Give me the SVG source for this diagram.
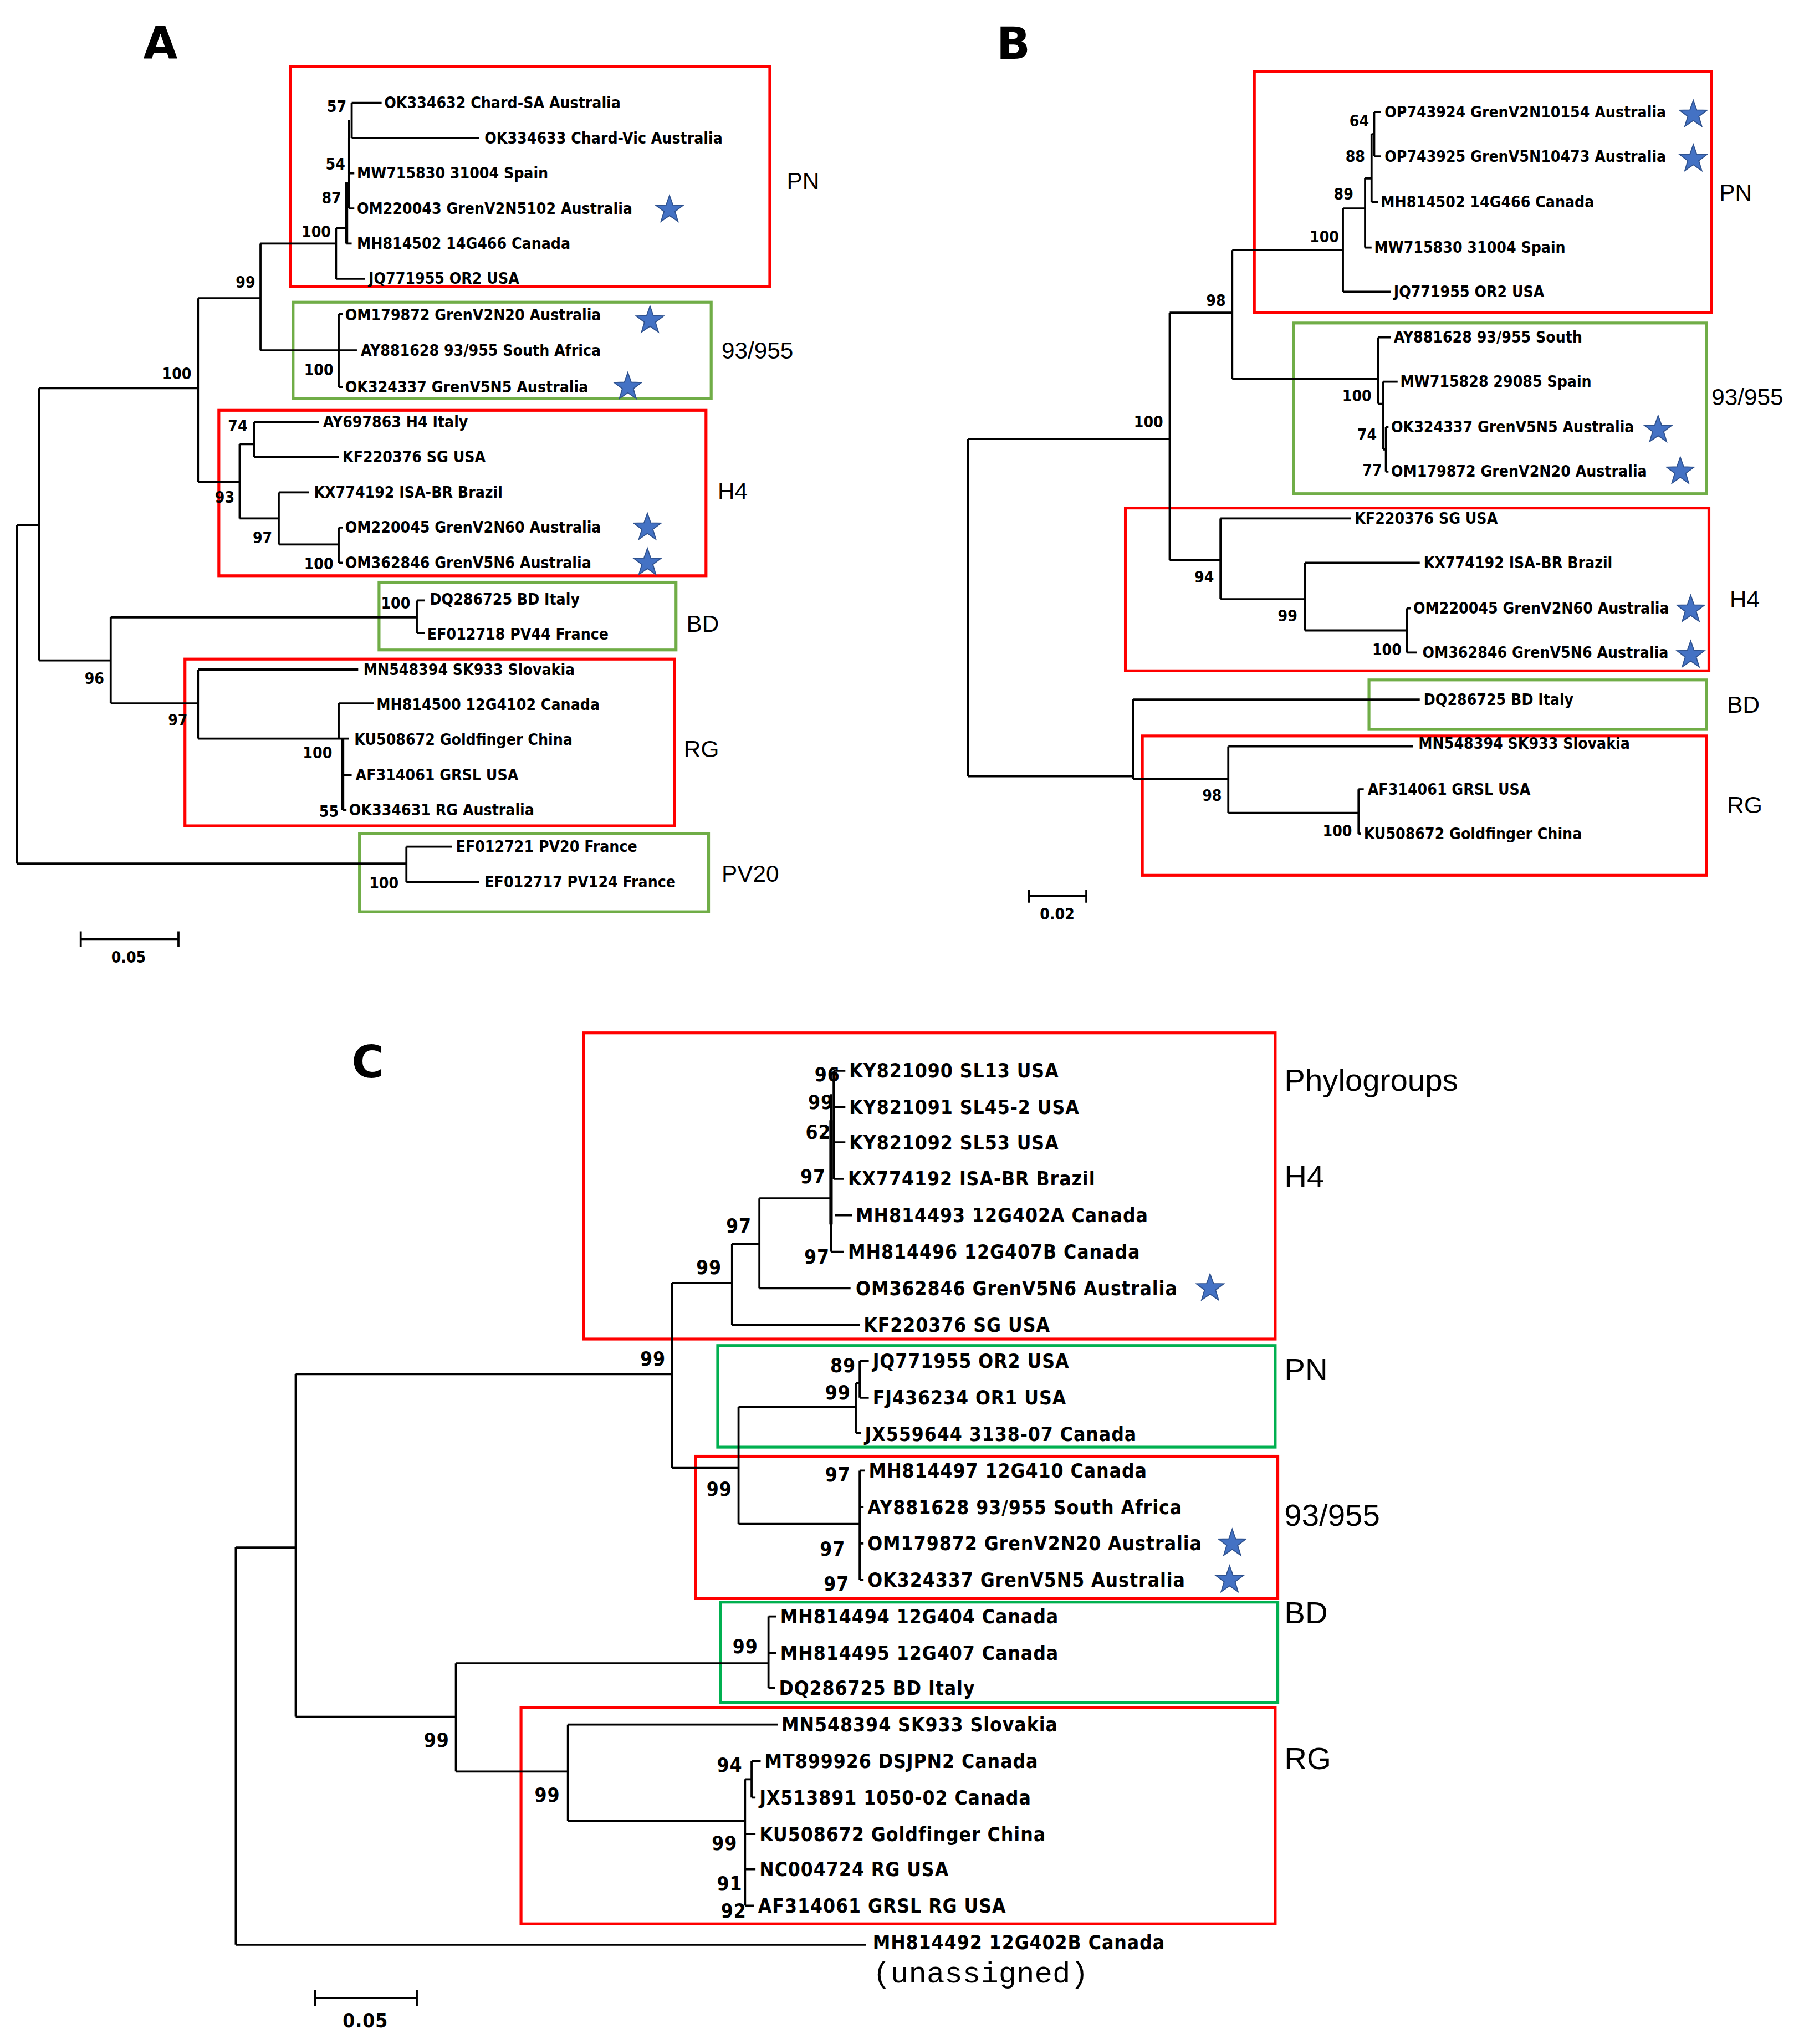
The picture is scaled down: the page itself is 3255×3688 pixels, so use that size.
<svg xmlns="http://www.w3.org/2000/svg" width="3255" height="3688" viewBox="0 0 3255 3688">
<defs>
<style>
.t{font-family:"DejaVu Sans Condensed","DejaVu Sans",sans-serif;font-weight:bold;font-size:12px;dominant-baseline:central;fill:#000}
.n{font-family:"DejaVu Sans Condensed","DejaVu Sans",sans-serif;font-weight:bold;font-size:12px;dominant-baseline:central;text-anchor:end}
.t.c,.n.c{font-size:15px;letter-spacing:0.4px}
.g{font-family:"Liberation Sans",Arial,sans-serif;font-size:18px;dominant-baseline:central}
.big{font-family:"DejaVu Sans",sans-serif;font-weight:bold;font-size:34px}
.tree path,.tree line{stroke:#000;stroke-width:1.6;fill:none}
.rb{fill:none;stroke:#f00;stroke-width:2.2}
.gb{fill:none;stroke:#70ad47;stroke-width:2.2}
.gbc{fill:none;stroke:#00b050;stroke-width:2.2}
</style>
<polygon id="star" points="0,-11 2.6,-3.6 10.5,-3.4 4.2,1.4 6.5,9 0,4.5 -6.5,9 -4.2,1.4 -10.5,-3.4 -2.6,-3.6" fill="#4472c4" stroke="#2f528f" stroke-width="0.8"/>
</defs>
<rect width="3255" height="3688" fill="#fff"/>
<g transform="scale(2.3502)">
<!-- Panel A -->
<g id="panelA">
<text class="big" x="110" y="45">A</text>
<g id="A-boxes">
<rect class="rb" x="223" y="51" width="368" height="169"/>
<rect class="gb" x="225" y="232" width="321" height="74"/>
<rect class="rb" x="168" y="315" width="374" height="127"/>
<rect class="gb" x="291" y="447" width="228" height="52"/>
<rect class="rb" x="142" y="506" width="376" height="128"/>
<rect class="gb" x="276" y="640" width="268" height="60"/>
</g>
<g id="A-connectors" class="tree">
<path d="M13,403V663M13,403H30M13,663H312M30,298V507M30,298H152M30,507H85"/>
<path d="M152,229V370M152,229H200M152,370H184M200,187V269M200,187H258M200,269H260"/>
<path d="M258,175V214M258,214H280M258,175H266M266,187H270M268,92V160M268,133H272M268,160H272M270,79V106M270,79H293M270,106H368"/>
<path d="M266,140V187" style="stroke-width:2.6"/>
<path d="M260,241V297M260,241H263M260,269H274M260,297H263"/>
<path d="M184,341V398M184,341H195M195,324V351M195,324H245M195,351H260M184,398H214M214,378V418M214,378H237M214,418H260M260,405V432M260,405H263M260,432H263"/>
<path d="M85,474V540M85,474H320M320,461V486M320,461H326M320,486H326"/>
<path d="M85,540H152M152,514V567M152,514H275M152,567H260M260,540V567M260,540H287M260,567H268M263,567V622M263,595H270M263,622H266"/>
<path d="M263,567V622" style="stroke-width:2.6"/>
<path d="M312,650V677M312,650H347M312,677H368"/>
<path d="M62,721H137M62,715V727M137,715V727"/>
</g>
<g id="A-leaves">
<text class="t" x="295" y="79">OK334632 Chard-SA Australia</text>
<text class="t" x="372" y="106">OK334633 Chard-Vic Australia</text>
<text class="t" x="274" y="133">MW715830 31004 Spain</text>
<text class="t" x="274" y="160">OM220043 GrenV2N5102 Australia</text>
<text class="t" x="274" y="187">MH814502 14G466 Canada</text>
<text class="t" x="283" y="214">JQ771955 OR2 USA</text>
<text class="t" x="265" y="242">OM179872 GrenV2N20 Australia</text>
<text class="t" x="277" y="269">AY881628 93/955 South Africa</text>
<text class="t" x="265" y="297">OK324337 GrenV5N5 Australia</text>
<text class="t" x="248" y="324">AY697863 H4 Italy</text>
<text class="t" x="263" y="351">KF220376 SG USA</text>
<text class="t" x="241" y="378">KX774192 ISA-BR Brazil</text>
<text class="t" x="265" y="405">OM220045 GrenV2N60 Australia</text>
<text class="t" x="265" y="432">OM362846 GrenV5N6 Australia</text>
<text class="t" x="330" y="460">DQ286725 BD Italy</text>
<text class="t" x="328" y="487">EF012718 PV44 France</text>
<text class="t" x="279" y="514">MN548394 SK933 Slovakia</text>
<text class="t" x="289" y="541">MH814500 12G4102 Canada</text>
<text class="t" x="272" y="568">KU508672 Goldfinger China</text>
<text class="t" x="273" y="595">AF314061 GRSL USA</text>
<text class="t" x="268" y="622">OK334631 RG Australia</text>
<text class="t" x="350" y="650">EF012721 PV20 France</text>
<text class="t" x="372" y="677">EF012717 PV124 France</text>
</g>
<g id="A-support">
<text class="n" x="266" y="82">57</text>
<text class="n" x="265" y="126">54</text>
<text class="n" x="262" y="152">87</text>
<text class="n" x="254" y="178">100</text>
<text class="n" x="196" y="217">99</text>
<text class="n" x="147" y="287">100</text>
<text class="n" x="256" y="284">100</text>
<text class="n" x="190" y="327">74</text>
<text class="n" x="180" y="382">93</text>
<text class="n" x="209" y="413">97</text>
<text class="n" x="256" y="433">100</text>
<text class="n" x="315" y="463">100</text>
<text class="n" x="80" y="521">96</text>
<text class="n" x="144" y="553">97</text>
<text class="n" x="255" y="578">100</text>
<text class="n" x="260" y="623">55</text>
<text class="n" x="306" y="678">100</text>
<text class="n" x="112" y="735">0.05</text>
</g>
<g id="A-groups">
<text class="g" x="604" y="139">PN</text>
<text class="g" x="554" y="269">93/955</text>
<text class="g" x="551" y="377">H4</text>
<text class="g" x="527" y="479">BD</text>
<text class="g" x="525" y="575">RG</text>
<text class="g" x="554" y="671">PV20</text>
</g>
<use href="#star" x="514" y="161"/>
<use href="#star" x="499" y="246"/>
<use href="#star" x="482" y="297"/>
<use href="#star" x="497" y="405"/>
<use href="#star" x="497" y="432"/>
</g>
<!-- Panel B -->
<g id="panelB">
<text class="big" x="765" y="45">B</text>
<g id="B-boxes">
<rect class="rb" x="963" y="55" width="351" height="185"/>
<rect class="gb" x="993" y="248" width="317" height="131"/>
<rect class="rb" x="864" y="390" width="448" height="125"/>
<rect class="gb" x="1051" y="522" width="259" height="38"/>
<rect class="rb" x="877" y="565" width="433" height="107"/>
</g>
<g id="B-connectors" class="tree">
<path d="M743,337V596M743,337H898M743,596H870M898,240V430M898,240H946M898,430H937"/>
<path d="M946,192V291M946,192H1031M1031,160V224M1031,224H1068M1031,160H1048M1048,137V190M1048,190H1053M1048,137H1053M1053,103V155M1053,155H1058M1053,103H1055M1055,86V120M1055,86H1060M1055,120H1060"/>
<path d="M946,291H1058M1058,259V310M1058,259H1068M1058,310H1062M1062,293V345M1062,293H1073M1062,345H1064M1064,328V362M1064,328H1066M1064,362H1066"/>
<path d="M937,398V460M937,398H1037M937,460H1002M1002,432V484M1002,432H1090M1002,484H1080M1080,467V501M1080,467H1083M1080,501H1088"/>
<path d="M870,537V598M870,537H1090M870,598H943M943,573V624M943,573H1085M943,624H1043M1043,606V640M1043,606H1047M1043,640H1045"/>
<path d="M790,688H834M790,683V693M834,683V693"/>
</g>
<g id="B-leaves">
<text class="t" x="1063" y="86">OP743924 GrenV2N10154 Australia</text>
<text class="t" x="1063" y="120">OP743925 GrenV5N10473 Australia</text>
<text class="t" x="1060" y="155">MH814502 14G466 Canada</text>
<text class="t" x="1055" y="190">MW715830 31004 Spain</text>
<text class="t" x="1070" y="224">JQ771955 OR2 USA</text>
<text class="t" x="1070" y="259">AY881628 93/955 South</text>
<text class="t" x="1075" y="293">MW715828 29085 Spain</text>
<text class="t" x="1068" y="328">OK324337 GrenV5N5 Australia</text>
<text class="t" x="1068" y="362">OM179872 GrenV2N20 Australia</text>
<text class="t" x="1040" y="398">KF220376 SG USA</text>
<text class="t" x="1093" y="432">KX774192 ISA-BR Brazil</text>
<text class="t" x="1085" y="467">OM220045 GrenV2N60 Australia</text>
<text class="t" x="1092" y="501">OM362846 GrenV5N6 Australia</text>
<text class="t" x="1093" y="537">DQ286725 BD Italy</text>
<text class="t" x="1089" y="571">MN548394 SK933 Slovakia</text>
<text class="t" x="1050" y="606">AF314061 GRSL USA</text>
<text class="t" x="1047" y="640">KU508672 Goldfinger China</text>
</g>
<g id="B-support">
<text class="n" x="1051" y="93">64</text>
<text class="n" x="1048" y="120">88</text>
<text class="n" x="1039" y="149">89</text>
<text class="n" x="1028" y="182">100</text>
<text class="n" x="941" y="231">98</text>
<text class="n" x="893" y="324">100</text>
<text class="n" x="1053" y="304">100</text>
<text class="n" x="1057" y="334">74</text>
<text class="n" x="1061" y="361">77</text>
<text class="n" x="932" y="443">94</text>
<text class="n" x="996" y="473">99</text>
<text class="n" x="1076" y="499">100</text>
<text class="n" x="938" y="611">98</text>
<text class="n" x="1038" y="638">100</text>
<text class="n" x="825" y="702">0.02</text>
</g>
<g id="B-groups">
<text class="g" x="1320" y="148">PN</text>
<text class="g" x="1314" y="305">93/955</text>
<text class="g" x="1328" y="460">H4</text>
<text class="g" x="1326" y="541">BD</text>
<text class="g" x="1326" y="618">RG</text>
</g>
<use href="#star" x="1300" y="88"/>
<use href="#star" x="1300" y="122"/>
<use href="#star" x="1273" y="330"/>
<use href="#star" x="1290" y="362"/>
<use href="#star" x="1298" y="468"/>
<use href="#star" x="1298" y="503"/>
</g>
<!-- Panel C -->
<g id="panelC">
<text class="big" x="270" y="827">C</text>
<g id="C-boxes">
<rect class="rb" x="448" y="793" width="531" height="235"/>
<rect class="gbc" x="551" y="1033" width="428" height="78"/>
<rect class="rb" x="534" y="1118" width="447" height="109"/>
<rect class="gbc" x="553" y="1230" width="428" height="77"/>
<rect class="rb" x="400" y="1311" width="579" height="166"/>
</g>
<g id="C-connectors" class="tree">
<path d="M181,1188V1493M181,1188H227M181,1493H665M227,1055V1318M227,1055H516M227,1318H350"/>
<path d="M516,985V1127M516,985H562M562,955V1017M562,955H583M562,1017H660M583,920V989M583,920H638M583,989H653"/>
<path d="M638,840V961M638,961H648M640,822V905M640,822H649M640,850H649M640,877H649M640,905H648M641,933H654"/>
<path d="M638,860V940" style="stroke-width:2.6"/>
<path d="M516,1127H567M567,1080V1170M567,1080H657M657,1062V1100M657,1100H661M657,1062H660M660,1045V1073M660,1045H667M660,1073H667"/>
<path d="M567,1170H660M660,1129V1213M660,1129H664M660,1157H663M660,1185H663M660,1213H663"/>
<path d="M350,1277V1360M350,1277H590M590,1241V1296M590,1241H596M590,1269H596M590,1296H595"/>
<path d="M350,1360H436M436,1324V1398M436,1324H597M436,1398H572M572,1366V1463M572,1366H577M577,1352V1380M577,1352H584M577,1380H580M572,1408H580M572,1435H580M572,1463H579"/>
<path d="M242,1534H320M242,1528V1540M320,1528V1540"/>
</g>
<g id="C-leaves">
<text class="t c" x="652" y="822">KY821090 SL13 USA</text>
<text class="t c" x="652" y="850">KY821091 SL45-2 USA</text>
<text class="t c" x="652" y="877">KY821092 SL53 USA</text>
<text class="t c" x="651" y="905">KX774192 ISA-BR Brazil</text>
<text class="t c" x="657" y="933">MH814493 12G402A Canada</text>
<text class="t c" x="651" y="961">MH814496 12G407B Canada</text>
<text class="t c" x="657" y="989">OM362846 GrenV5N6 Australia</text>
<text class="t c" x="663" y="1017">KF220376 SG USA</text>
<text class="t c" x="670" y="1045">JQ771955 OR2 USA</text>
<text class="t c" x="670" y="1073">FJ436234 OR1 USA</text>
<text class="t c" x="664" y="1101">JX559644 3138-07 Canada</text>
<text class="t c" x="667" y="1129">MH814497 12G410 Canada</text>
<text class="t c" x="666" y="1157">AY881628 93/955 South Africa</text>
<text class="t c" x="666" y="1185">OM179872 GrenV2N20 Australia</text>
<text class="t c" x="666" y="1213">OK324337 GrenV5N5 Australia</text>
<text class="t c" x="599" y="1241">MH814494 12G404 Canada</text>
<text class="t c" x="599" y="1269">MH814495 12G407 Canada</text>
<text class="t c" x="598" y="1296">DQ286725 BD Italy</text>
<text class="t c" x="600" y="1324">MN548394 SK933 Slovakia</text>
<text class="t c" x="587" y="1352">MT899926 DSJPN2 Canada</text>
<text class="t c" x="583" y="1380">JX513891 1050-02 Canada</text>
<text class="t c" x="583" y="1408">KU508672 Goldfinger China</text>
<text class="t c" x="583" y="1435">NC004724 RG USA</text>
<text class="t c" x="582" y="1463">AF314061 GRSL RG USA</text>
<text class="t c" x="670" y="1491">MH814492 12G402B Canada</text>
<text x="670" y="1516" style="font-family:'Liberation Mono','DejaVu Sans Mono',monospace;font-size:23px;dominant-baseline:central">(unassigned)</text>
</g>
<g id="C-support">
<text class="n c" x="645" y="825">96</text>
<text class="n c" x="640" y="846">99</text>
<text class="n c" x="638" y="869">62</text>
<text class="n c" x="634" y="903">97</text>
<text class="n c" x="577" y="941">97</text>
<text class="n c" x="637" y="965">97</text>
<text class="n c" x="554" y="973">99</text>
<text class="n c" x="511" y="1043">99</text>
<text class="n c" x="657" y="1048">89</text>
<text class="n c" x="653" y="1069">99</text>
<text class="n c" x="562" y="1143">99</text>
<text class="n c" x="653" y="1132">97</text>
<text class="n c" x="649" y="1189">97</text>
<text class="n c" x="652" y="1216">97</text>
<text class="n c" x="582" y="1264">99</text>
<text class="n c" x="345" y="1336">99</text>
<text class="n c" x="570" y="1355">94</text>
<text class="n c" x="430" y="1378">99</text>
<text class="n c" x="566" y="1415">99</text>
<text class="n c" x="570" y="1446">91</text>
<text class="n c" x="573" y="1467">92</text>
<text class="n c" x="298" y="1551">0.05</text>
</g>
<g id="C-groups">
<text class="g" x="986" y="829" style="font-size:24px">Phylogroups</text>
<text class="g" x="986" y="903" style="font-size:24px">H4</text>
<text class="g" x="986" y="1051" style="font-size:24px">PN</text>
<text class="g" x="986" y="1163" style="font-size:24px">93/955</text>
<text class="g" x="986" y="1238" style="font-size:24px">BD</text>
<text class="g" x="986" y="1350" style="font-size:24px">RG</text>
</g>
<use href="#star" x="929" y="989"/>
<use href="#star" x="946" y="1185"/>
<use href="#star" x="944" y="1213"/>
</g>
</g>
</svg>
